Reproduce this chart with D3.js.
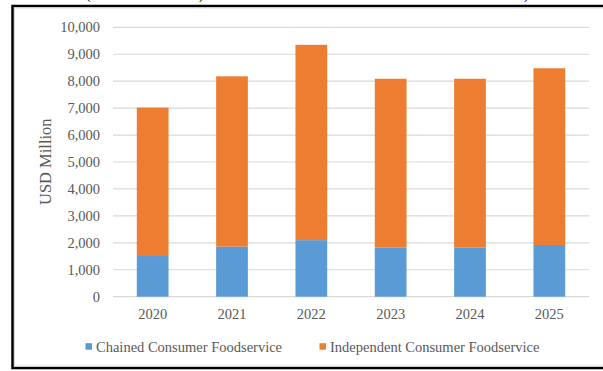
<!DOCTYPE html>
<html>
<head>
<meta charset="utf-8">
<script src="https://cdn.jsdelivr.net/npm/d3@7"></script>
<style>
  html, body { margin: 0; padding: 0; background: #fff; }
  svg { display: block; font-family: "Liberation Serif", "Times New Roman", serif; }
</style>
</head>
<body>
<svg id="chart" width="603" height="371"></svg>
<script>
// data (USD Million)
const years = ['2020', '2021', '2022', '2023', '2024', '2025'];
const chained = [1510, 1860, 2100, 1830, 1830, 1920];
const independent = [5510, 6320, 7250, 6260, 6260, 6560];
const seriesNames = ['Chained Consumer Foodservice', 'Independent Consumer Foodservice'];
const yTicks = [0, 1000, 2000, 3000, 4000, 5000, 6000, 7000, 8000, 9000, 10000];

const colors = ['#5b9bd5', '#ed7d31'];
const textColor = '#595959';

const svg = d3.select('#chart');

// frame: black outer border + light inner border
svg.append('rect')
  .attr('x', 12.5).attr('y', 6).attr('width', 620).attr('height', 362)
  .attr('fill', 'none').attr('stroke', '#000').attr('stroke-width', 2.5);
svg.append('rect')
  .attr('x', 14.5).attr('y', 8).attr('width', 620).attr('height', 358)
  .attr('fill', 'none').attr('stroke', '#d9d9d9').attr('stroke-width', 1);

// bits of a title cut off at the top edge
svg.append('g').attr('fill', '#000').attr('font-size', 14)
  .selectAll('text').data([['(', 86], [')', 199], [')', 524]])
  .join('text').attr('x', d => d[1]).attr('y', -1).text(d => d[0]);

const x = d3.scaleBand().domain(years).range([113, 589]).paddingInner(0.6).paddingOuter(0.3);
const y = d3.scaleLinear().domain([0, 10000]).range([296.7, 27.3]);

// gridlines
svg.append('g')
  .selectAll('line').data(yTicks).join('line')
  .attr('x1', 113).attr('x2', 589)
  .attr('y1', d => y(d)).attr('y2', d => y(d))
  .attr('stroke', '#d9d9d9').attr('stroke-width', 1.2);

// y axis labels
svg.append('g').attr('font-size', 14.5).attr('fill', textColor).attr('text-anchor', 'end')
  .selectAll('text').data(yTicks).join('text')
  .attr('x', 100).attr('y', d => y(d)).attr('dy', '0.35em')
  .text(d => d3.format(',')(d));

// stacked bars
const rows = years.map((yr, i) => ({ year: yr, chained: chained[i], independent: independent[i] }));
const stack = d3.stack().keys(['chained', 'independent'])(rows);

svg.append('g')
  .selectAll('g').data(stack).join('g')
  .attr('fill', (d, i) => colors[i])
  .selectAll('rect').data(d => d).join('rect')
  .attr('x', d => x(d.data.year))
  .attr('width', x.bandwidth())
  .attr('y', d => y(d[1]))
  .attr('height', d => y(d[0]) - y(d[1]));

// x labels
svg.append('g').attr('font-size', 14.5).attr('fill', textColor).attr('text-anchor', 'middle')
  .selectAll('text').data(years).join('text')
  .attr('x', d => x(d) + x.bandwidth() / 2).attr('y', 314).attr('dy', '0.35em')
  .text(d => d);

// y title
svg.append('text')
  .attr('transform', 'translate(45.7,161.7) rotate(-90)')
  .attr('text-anchor', 'middle').attr('dy', '0.35em')
  .attr('font-size', 16.5).attr('fill', textColor)
  .text('USD Million');

// legend
const legendX = [85.5, 319.5];
const legend = svg.append('g').selectAll('g').data(seriesNames).join('g')
  .attr('transform', (d, i) => `translate(${legendX[i]},346.5)`);
legend.append('rect')
  .attr('x', 0).attr('y', -3.3).attr('width', 6.5).attr('height', 6.5)
  .attr('fill', (d, i) => colors[i]);
legend.append('text')
  .attr('x', 10.5).attr('dy', '0.35em')
  .attr('font-size', 14.5).attr('fill', textColor)
  .text(d => d);
</script>
</body>
</html>
